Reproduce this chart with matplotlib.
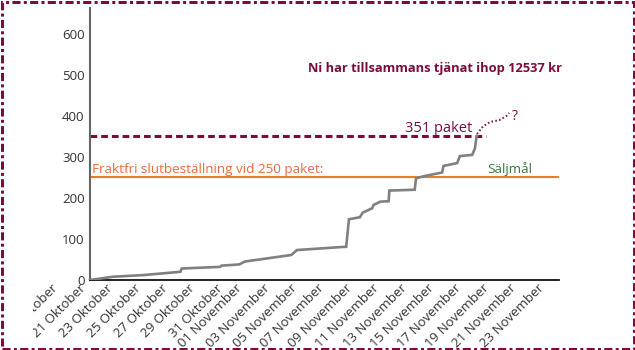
import numpy as np
import pandas as pd
import matplotlib
matplotlib.use("Agg")
import matplotlib.pyplot as plt
import matplotlib.dates as mdates
import matplotlib.transforms as mtrans
from matplotlib.patches import Rectangle

plt.rcParams['font.family'] = ['Open Sans', 'DejaVu Sans']

# data: days after 21 Oct and cumulative number of packages
start = pd.Timestamp('2023-10-21')
days = [0, 1.7, 3.9, 6.6, 6.7, 9.5, 9.6, 10.9, 11.3, 14.7, 15.1, 18.2, 18.7,
        18.9, 19.7, 19.9, 20.6, 20.7, 21.2, 21.8, 21.85, 23.7, 23.8, 24.5,
        25.7, 25.8, 26.8, 27.0, 27.9, 28.1, 28.2, 28.25]
packages = [0, 8, 12, 20, 28, 32, 35, 38, 45, 61, 73, 80, 81,
            148, 153, 164, 175, 183, 191, 192, 218, 220, 248, 254,
            262, 278, 285, 302, 305, 321, 346, 351]

# dotted "?" projection after the last value
proj_days = [28.25, 28.7, 29.2, 29.9, 30.4, 30.6]
proj_vals = [356, 375, 385, 390, 400, 407]

goal = 351
free_shipping = 250
earned = 12537

tick_dates = ['2023-10-19', '2023-10-21', '2023-10-23', '2023-10-25', '2023-10-27',
              '2023-10-29', '2023-10-31', '2023-11-01', '2023-11-03', '2023-11-05',
              '2023-11-07', '2023-11-09', '2023-11-11', '2023-11-13', '2023-11-15',
              '2023-11-17', '2023-11-19', '2023-11-21', '2023-11-23']
tick_labels = ['19 Oktober', '21 Oktober', '23 Oktober', '25 Oktober', '27 Oktober',
               '29 Oktober', '31 Oktober', '01 November', '03 November', '05 November',
               '07 November', '09 November', '11 November', '13 November', '15 November',
               '17 November', '19 November', '21 November', '23 November']

def to_date(d):
    return start + pd.to_timedelta(np.asarray(d, dtype=float), unit='D')

W, H = 635, 350
fig = plt.figure(figsize=(W / 100, H / 100), dpi=100)
px_day = 13.7
left_px = 90 - 2.5 * px_day
width_px = 36.7 * px_day
ax = fig.add_axes([left_px / W, 70 / H, width_px / W, 272 / H])

x = to_date(days)
ax.plot(x, packages, color='#808080', lw=1.9, solid_joinstyle='miter', zorder=3)

end_day = 34.2
ax.set_xlim(to_date([-2.5])[0], to_date([end_day])[0])
ax.set_ylim(0, 663)

# reference lines
ax.plot(to_date([0, end_day]), [free_shipping, free_shipping], color='#f07d1e', lw=1.5, zorder=2)
ax.plot(to_date([0, 28.9]), [goal, goal], color='#7d0b3e', lw=2.2, ls=(0, (2.2, 1.3)), zorder=2)
ax.plot(to_date(proj_days), proj_vals, color='#7d0b3e', lw=1.4, ls=(0, (0.8, 1.2)), zorder=2)

ax.text(to_date([0.15])[0], free_shipping + 4, 'Fraktfri slutbeställning vid 250 paket:',
        color='#ee6b3a', fontsize=9.7, va='bottom', ha='left')
ax.text(to_date([29.0])[0], free_shipping + 4, 'Säljmål', color='#3a7a3c',
        fontsize=9.7, va='bottom', ha='left')
ax.text(to_date([27.9])[0], goal + 9, '%d paket' % goal, color='#7d0b3e',
        fontsize=10.5, ha='right', va='baseline')
ax.text(to_date([31.0])[0], 390, '?', color='#7d0b3e', fontsize=10, ha='center', va='baseline')
ax.text(to_date([15.9])[0], 508, 'Ni har tillsammans tjänat ihop %d kr' % earned,
        color='#7d0b3e', fontsize=9.25, fontweight='bold', ha='left', va='baseline')

# axes styling
for s in ['top', 'right']:
    ax.spines[s].set_visible(False)
ax.spines['left'].set_position(('data', mdates.date2num(start)))
ax.spines['left'].set_color('#666666')
ax.spines['left'].set_linewidth(1.5)
ax.spines['bottom'].set_bounds(mdates.date2num(start), mdates.date2num(to_date([end_day])[0]))
ax.spines['bottom'].set_color('#111111')
ax.spines['bottom'].set_linewidth(1.3)

ax.set_yticks([0, 100, 200, 300, 400, 500, 600])
ax.tick_params(axis='y', length=0, pad=4, labelsize=9.5, labelcolor='#333333')
ax.set_xticks(pd.to_datetime(tick_dates))
ax.set_xticklabels(tick_labels)
ax.tick_params(axis='x', length=0, pad=1, labelsize=9.5, labelcolor='#333333')
clip = mtrans.Bbox.from_extents(33, 0, W, H)
for lab, name in zip(ax.get_xticklabels(), tick_labels):
    lab.set_rotation(45)
    lab.set_ha('right')
    lab.set_va('top')
    lab.set_rotation_mode('anchor')
    dx = -11 if 'Oktober' in name else -5
    lab.set_transform(lab.get_transform() + mtrans.ScaledTranslation(dx / 100, 0, fig.dpi_scale_trans))
    lab.set_clip_box(clip)
    lab.set_clip_on(True)

# dash-dot frame around the picture
lw = 3 * 72 / 100
fig.patches.append(Rectangle((1.5 / W, 1.5 / H), 1 - 3 / W, 1 - 3 / H, transform=fig.transFigure,
                             fill=False, edgecolor='#7d0b3e', lw=lw,
                             ls=(0, (2.7, 1.1, 1.0, 1.1)), capstyle='butt'))

fig.savefig('out.png', dpi=100)
